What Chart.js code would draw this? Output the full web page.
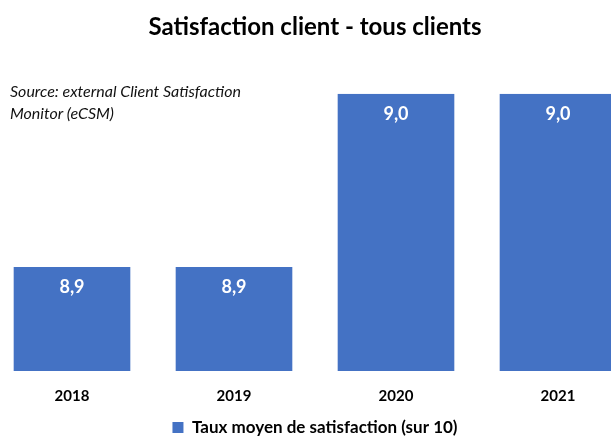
<!DOCTYPE html>
<html>
<head>
<meta charset="utf-8">
<script src="https://cdn.jsdelivr.net/npm/chart.js@4.4.1/dist/chart.umd.min.js"></script>
<style>
  html, body { margin: 0; padding: 0; background: #fff; overflow: hidden; }
  #wrap { position: absolute; left: -9px; top: 0; width: 648px; height: 436px; }
  #source {
    position: absolute; left: 10px; top: 80px;
    font: italic 16px Lato, sans-serif; line-height: 22px; color: #111;
  }
</style>
</head>
<body>
<div id="wrap"><canvas id="chart" width="648" height="436"></canvas></div>
<div id="source">Source: external Client Satisfaction<br>Monitor (eCSM)</div>
<script>
const annees = ['2018', '2019', '2020', '2021'];
const tauxMoyen = [8.9, 8.9, 9.0, 9.0];
const serieNom = 'Taux moyen de satisfaction (sur 10)';
const bleu = '#4472C4';

// etiquettes dans les barres, format francais
const etiquettes = {
  id: 'etiquettes',
  afterDatasetsDraw(chart) {
    const ctx = chart.ctx;
    const meta = chart.getDatasetMeta(0);
    ctx.save();
    ctx.fillStyle = '#fff';
    ctx.font = 'bold 18px Lato';
    ctx.textAlign = 'center';
    ctx.textBaseline = 'middle';
    meta.data.forEach((bar, i) => {
      ctx.fillText(tauxMoyen[i].toFixed(1).replace('.', ','), bar.x, bar.y + 20);
    });
    ctx.restore();
  }
};

new Chart(document.getElementById('chart'), {
  type: 'bar',
  data: {
    labels: annees,
    datasets: [{
      label: serieNom,
      data: tauxMoyen,
      backgroundColor: bleu,
      categoryPercentage: 1,
      barPercentage: 0.72
    }]
  },
  options: {
    responsive: false,
    animation: false,
    layout: { padding: { left: 0, right: 0, top: 0, bottom: -10 } },
    plugins: {
      title: {
        display: true,
        text: 'Satisfaction client - tous clients',
        color: '#000',
        font: { family: 'Lato', size: 24, weight: 'bold' },
        padding: { top: 13, bottom: 52 }
      },
      legend: {
        position: 'bottom',
        labels: {
          color: '#000',
          font: { family: 'Lato', size: 17, weight: 'bold' },
          boxWidth: 11,
          boxHeight: 11,
          padding: 0
        }
      },
      tooltip: { enabled: false }
    },
    scales: {
      x: {
        grid: { display: false, drawTicks: false },
        border: { display: false },
        ticks: { color: '#000', font: { family: 'Lato', size: 15, weight: 'bold' }, padding: 16 },
        afterFit(scale) { scale.height = 48; }
      },
      y: {
        display: false,
        min: 8.84,
        max: 9.0
      }
    }
  },
  plugins: [etiquettes]
});
</script>
</body>
</html>
